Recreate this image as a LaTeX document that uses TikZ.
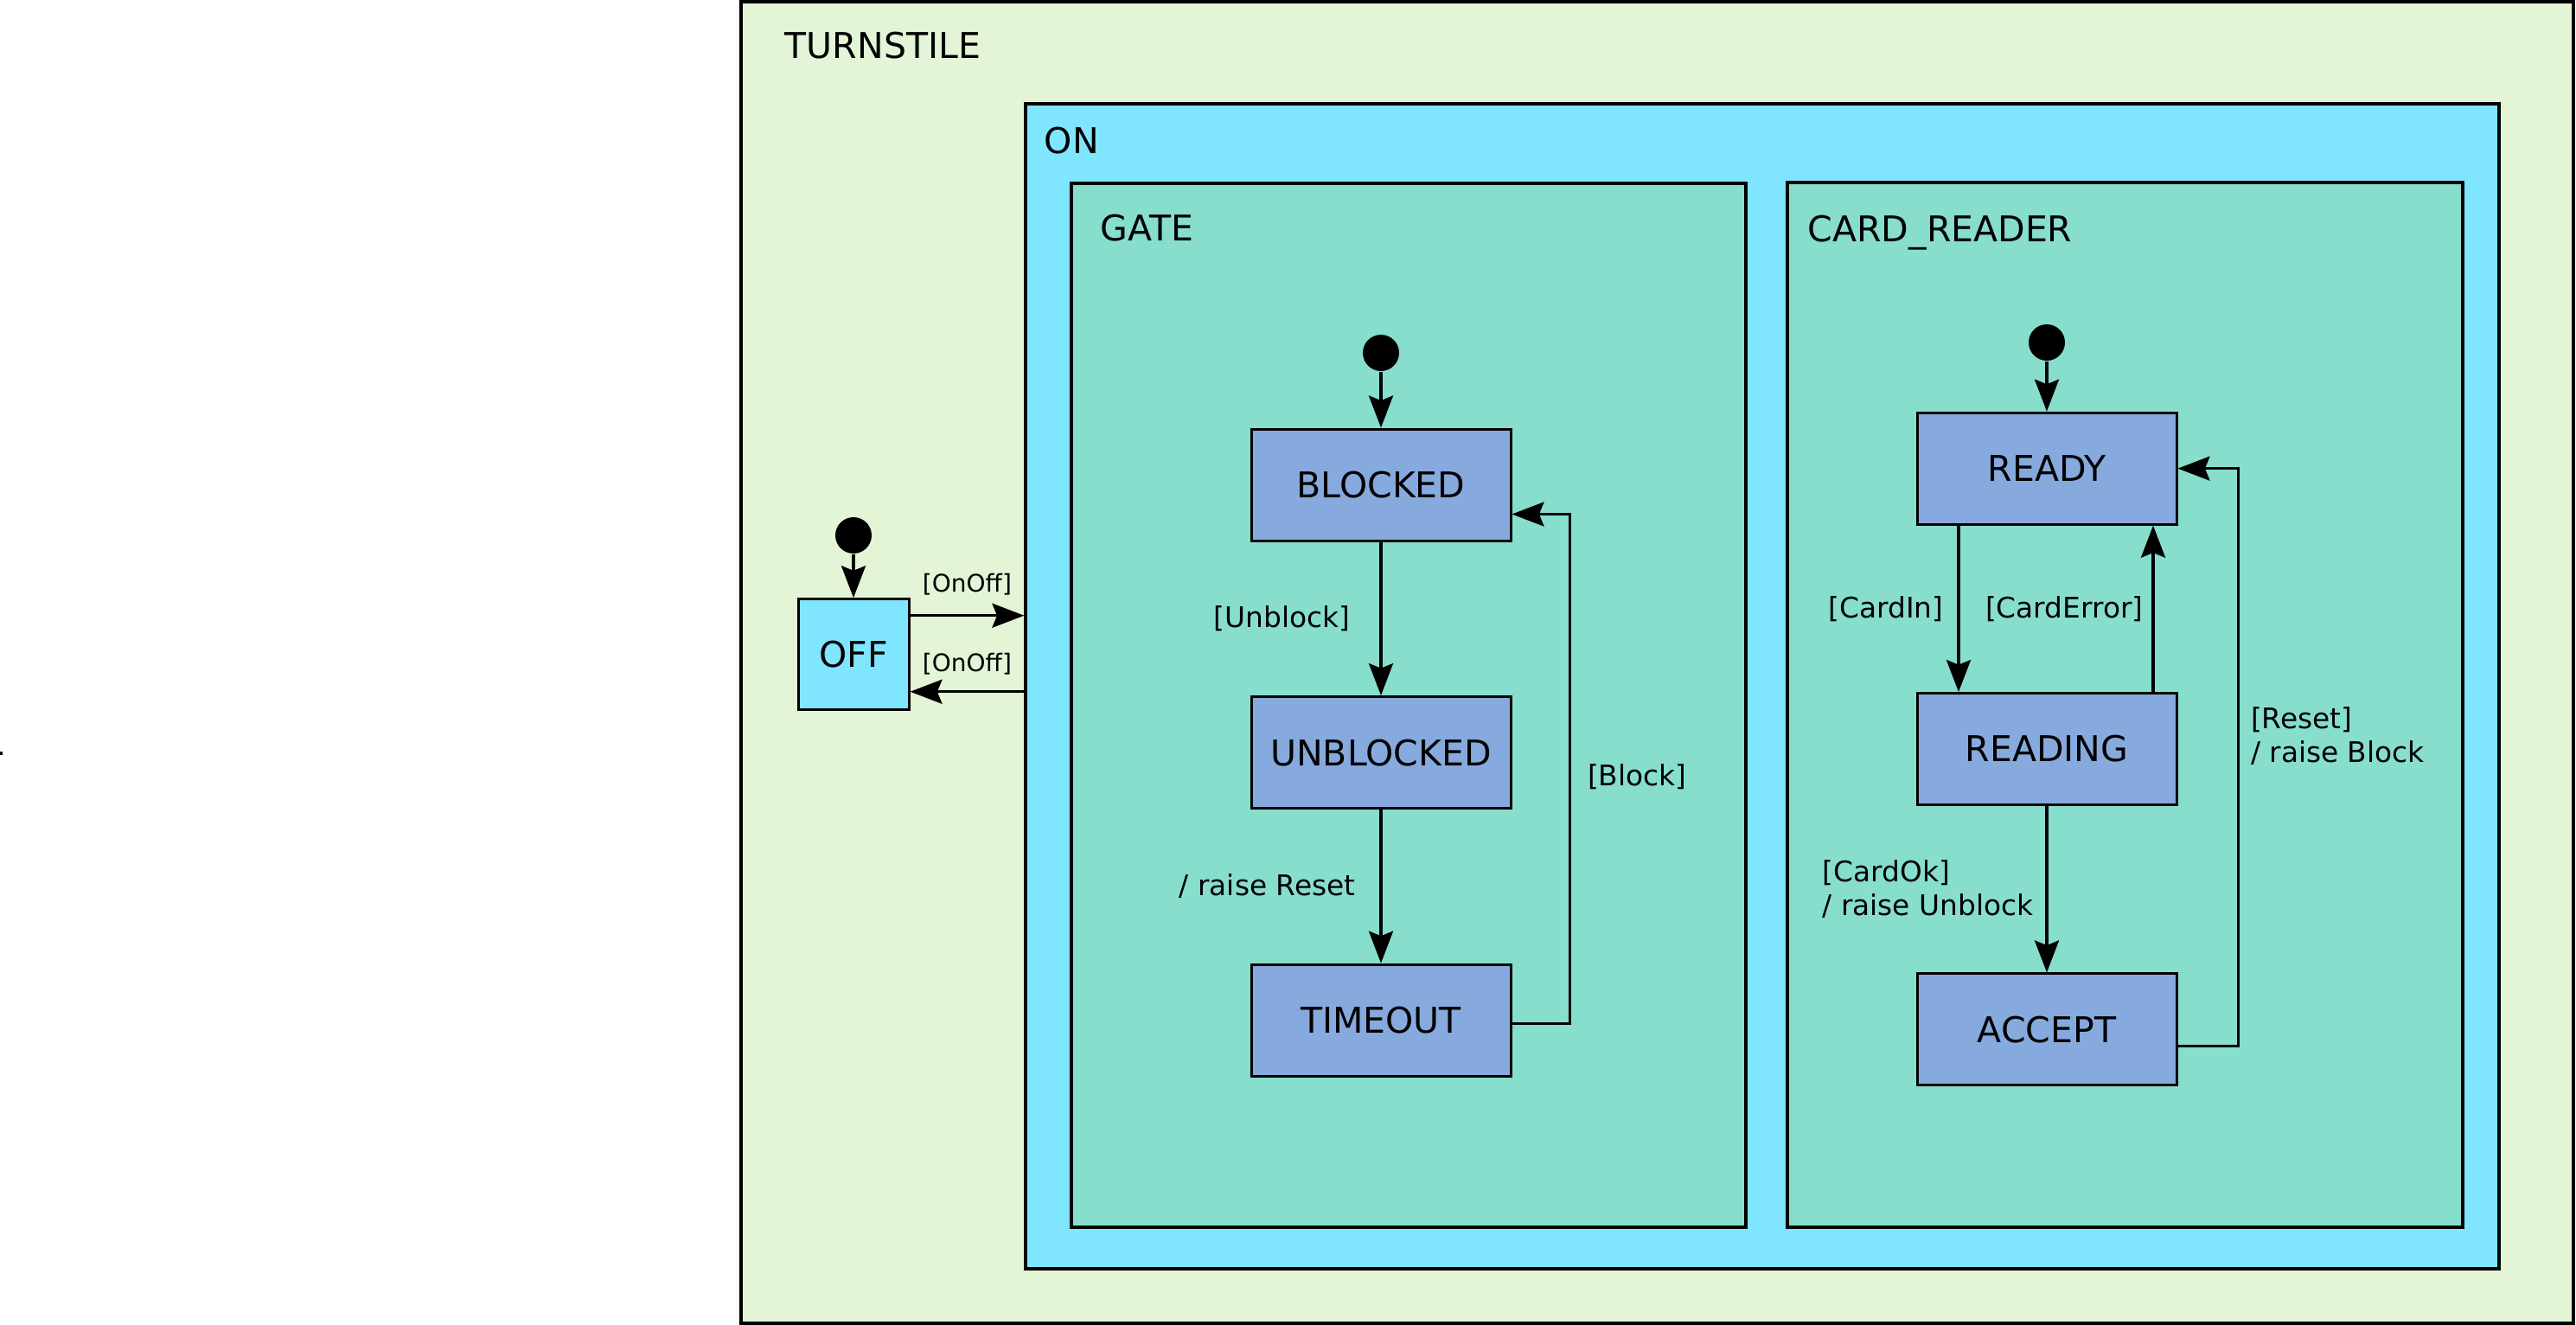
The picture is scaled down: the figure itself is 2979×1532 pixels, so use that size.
\documentclass[tikz,border=0pt]{standalone}
\usepackage{fontspec}
\setmainfont{DejaVu Sans}
\usepackage{tikz}
\usetikzlibrary{arrows.meta}
\definecolor{turnstilegreen}{HTML}{E3F4D7}
\definecolor{oncyan}{HTML}{80E5FF}
\definecolor{regionteal}{HTML}{87DECD}
\definecolor{stateblue}{HTML}{87AADE}
\tikzstyle{region} = [rectangle, draw, line width=0.8pt, inner sep=0pt]
\tikzstyle{regiontitle} = [anchor=base west, inner sep=0pt, font=\fontsize{10.25}{12}\selectfont]
\tikzstyle{statebox} = [rectangle, draw, fill=stateblue, line width=0.75pt, text centered, minimum width=75pt, minimum height=32.25pt, font=\fontsize{10.25}{12}\selectfont]
\tikzstyle{offstate} = [statebox, fill=oncyan, minimum width=32pt, minimum height=32pt]
\tikzstyle{startdot} = [circle, fill=black, inner sep=0pt, minimum size=10.5pt]
\tikzstyle{guard} = [inner sep=0pt, align=left, font=\fontsize{8.2}{9.75}\selectfont]
\tikzstyle{smallguard} = [guard, font=\fontsize{7}{8}\selectfont]
\tikzstyle{connector} = [line width=0.8pt, -{Stealth[length=9.25pt, width=7pt, inset=1.4pt]}]

\begin{document}
\begin{tikzpicture}[x=0.25pt, y=-0.25pt]
        \useasboundingbox (0,0) rectangle (2979,1532);
        \fill (0,869) rectangle (3,873);
        \node (turnstile) [region, fill=turnstilegreen, minimum width=529.75pt, minimum height=382pt] at (1916.5,766) {};
        \node (on) [region, fill=oncyan, minimum width=426pt, minimum height=336.75pt] at (2038,793.5) {};
        \node (gate) [region, fill=regionteal, minimum width=195pt, minimum height=301.75pt] at (1629,815.5) {};
        \node (card-reader) [region, fill=regionteal, minimum width=195.25pt, minimum height=302pt] at (2457.5,815) {};
        \node (turnstile-title) [regiontitle] at (907,67) {TURNSTILE};
        \node (on-title) [regiontitle] at (1207,177) {ON};
        \node (gate-title) [regiontitle] at (1272,278) {GATE};
        \node (card-reader-title) [regiontitle] at (2090,279) {CARD\_READER};
        \node (off-init) [startdot] at (987,619) {};
        \node (off) [offstate, below of = off-init, yshift = -0.21cm] {OFF};
        \node (gate-init) [startdot] at (1597,408) {};
        \node (blocked) [statebox, below of = gate-init, yshift = -0.34cm] {BLOCKED};
        \node (unblocked) [statebox, below of = blocked, yshift = -1.72cm] {UNBLOCKED};
        \node (timeout) [statebox, below of = unblocked, yshift = -1.72cm] {TIMEOUT};
        \node (reader-init) [startdot] at (2367,396) {};
        \node (ready) [statebox, below of = reader-init, yshift = -0.28cm] {READY};
        \node (reading) [statebox, below of = ready, yshift = -1.85cm] {READING};
        \node (accept) [statebox, below of = reading, yshift = -1.85cm] {ACCEPT};
        \coordinate (off-in) at ([yshift=11.25pt]off.east);
        \coordinate (off-out) at ([yshift=-10.75pt]off.east);
        \draw [connector] (off-init) -- (off);
        \draw [connector] (off-in) -- node[smallguard, above=5.5pt] {[OnOff]} (off-in -| on.west);
        \draw [connector] (off-out -| on.west) -- node[smallguard, above=4.5pt] {[OnOff]} (off-out);
        \draw [connector] (gate-init) -- (blocked);
        \draw [connector] (blocked) -- node[guard, left=8.5pt] {[Unblock]} (unblocked);
        \draw [connector] (unblocked) -- node[guard, left=7pt] {/ raise Reset} (timeout);
        \draw [connector] ([yshift=-1pt]timeout.east) -- ++(67,0) |- node[guard, right=4.75pt, pos=0.25, yshift=-2.25pt] {[Block]} ([yshift=-8.5pt]blocked.east);
        \draw [connector] (reader-init) -- (ready);
        \draw [connector] ([xshift=-25.5pt]ready.south) -- node[guard, left=4pt] {[CardIn]} ([xshift=-25.5pt]reading.north);
        \draw [connector] ([xshift=30.75pt]reading.north) -- node[guard, left=2.5pt] {[CardError]} ([xshift=30.75pt]ready.south);
        \draw [connector] (reading) -- node[guard, left=3.5pt] {[CardOk]\\/ raise Unblock} (accept);
        \draw [connector] ([yshift=-4.75pt]accept.east) -- ++(70,0) |- node[guard, right=3.25pt, pos=0.25, yshift=6.1pt] {[Reset]\\/ raise Block} (ready.east);
    \end{tikzpicture}
\end{document}
